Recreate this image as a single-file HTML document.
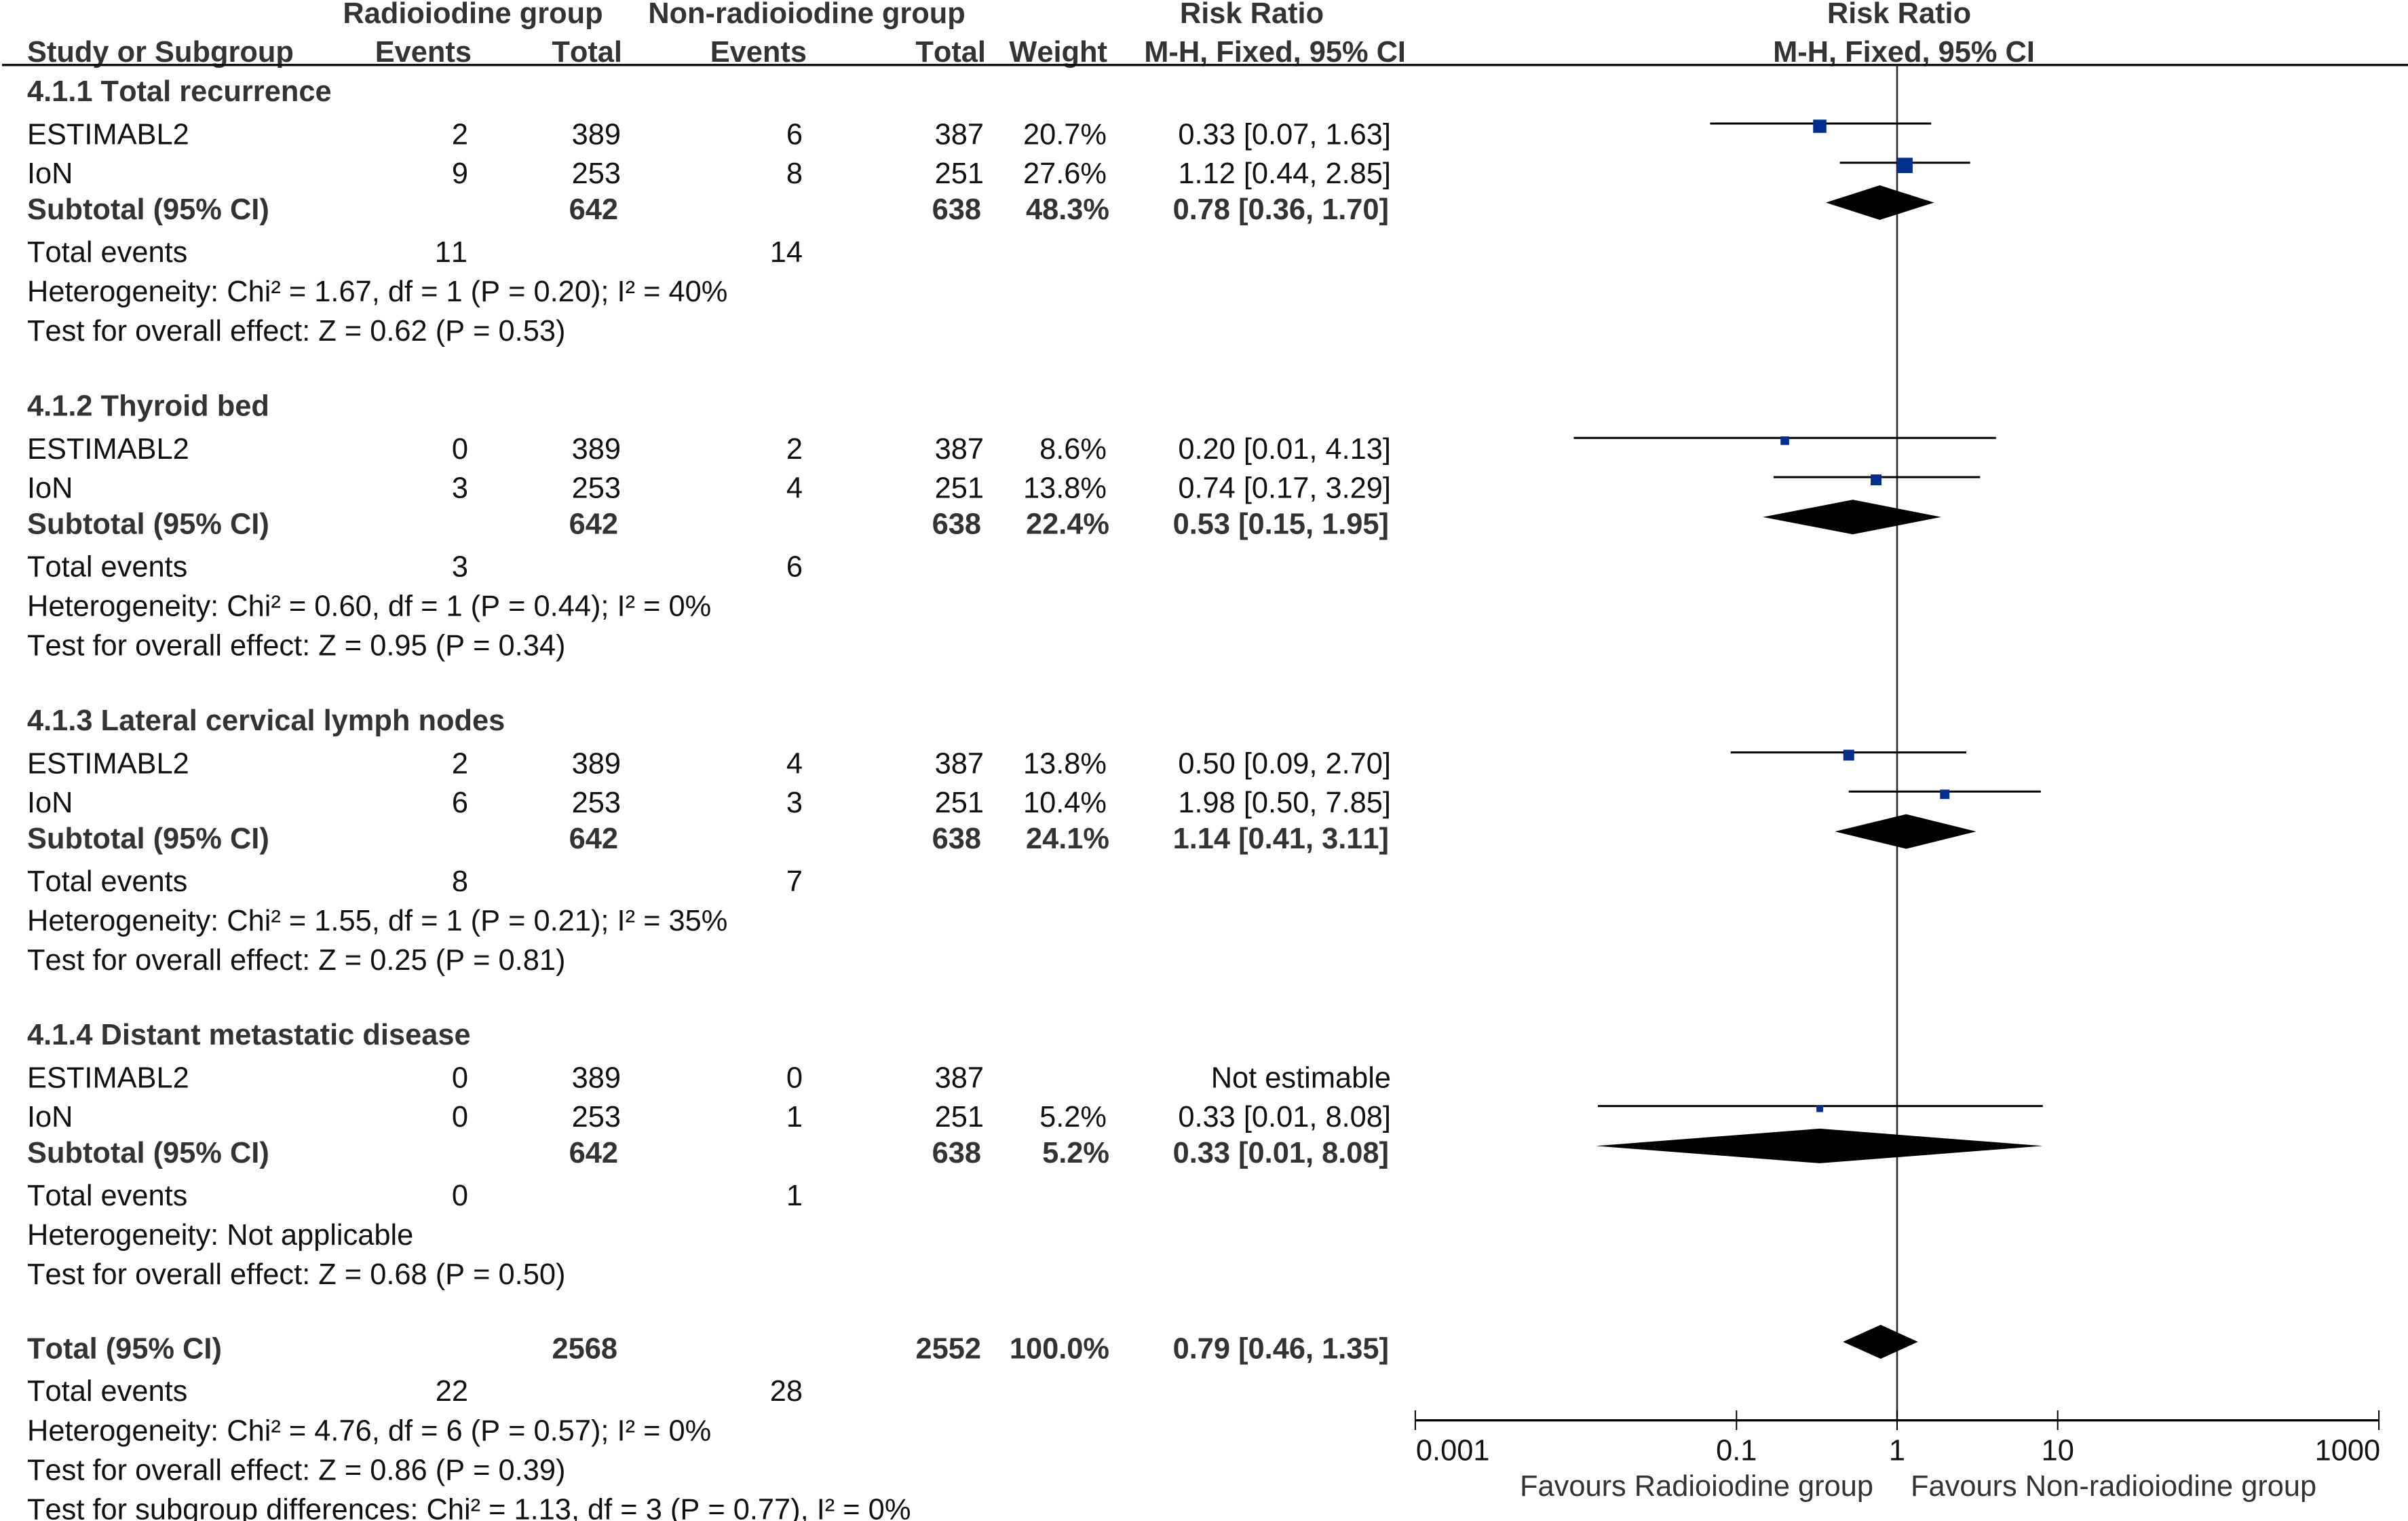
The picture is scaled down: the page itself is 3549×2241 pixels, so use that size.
<!DOCTYPE html>
<html lang="en">
<head>
<meta charset="utf-8">
<title>Forest plot: Radioiodine vs Non-radioiodine</title>
<style>
html,body{margin:0;padding:0;background:#fff;width:3549px;height:2241px;overflow:hidden}
svg{display:block}
text{font-family:"Liberation Sans",Arial,sans-serif;font-size:43.4px;fill:#111;font-kerning:none}
.b{font-weight:700;fill:#333}
.e{text-anchor:end}
.m{text-anchor:middle}
.g{fill:#333;font-kerning:normal}
</style>
</head>
<body>
<svg id="forest" xmlns="http://www.w3.org/2000/svg" width="3549" height="2241" viewBox="0 0 3549 2241">
<rect x="0" y="0" width="3549" height="2241" fill="#fff"/>

<g>
<text class="b m" x="697" y="34">Radioiodine group</text>
<text class="b m" x="1189" y="34">Non-radioiodine group</text>
<text class="b m" x="1845" y="34">Risk Ratio</text>
<text class="b m" x="2799" y="34">Risk Ratio</text>
<text class="b" x="40" y="91">Study or Subgroup</text>
<text class="b e" x="695" y="91">Events</text>
<text class="b e" x="917" y="91">Total</text>
<text class="b e" x="1189" y="91">Events</text>
<text class="b e" x="1453" y="91">Total</text>
<text class="b e" x="1632" y="91">Weight</text>
<text class="b e" x="2072" y="91">M-H, Fixed, 95% CI</text>
<text class="b m" x="2806" y="91">M-H, Fixed, 95% CI</text>
<rect x="3" y="94" width="3546" height="3.5" fill="#111"/>
</g>

<g>
<text class="b" x="40" y="149">4.1.1 Total recurrence</text>
<text x="40" y="212.5">ESTIMABL2</text>
<text class="e" x="690" y="212.5">2</text>
<text class="e" x="915" y="212.5">389</text>
<text class="e" x="1183" y="212.5">6</text>
<text class="e" x="1450" y="212.5">387</text>
<text class="e" x="1631" y="212.5">20.7%</text>
<text class="e" x="2050" y="212.5">0.33 [0.07, 1.63]</text>
<text x="40" y="270">IoN</text>
<text class="e" x="690" y="270">9</text>
<text class="e" x="915" y="270">253</text>
<text class="e" x="1183" y="270">8</text>
<text class="e" x="1450" y="270">251</text>
<text class="e" x="1631" y="270">27.6%</text>
<text class="e" x="2050" y="270">1.12 [0.44, 2.85]</text>
<text class="b" x="40" y="323">Subtotal (95% CI)</text>
<text class="b e" x="911" y="323">642</text>
<text class="b e" x="1446" y="323">638</text>
<text class="b e" x="1635" y="323">48.3%</text>
<text class="b e" x="2047" y="323">0.78 [0.36, 1.70]</text>
<text x="40" y="386">Total events</text>
<text class="e" x="689" y="386">11</text>
<text class="e" x="1183" y="386">14</text>
<text x="40" y="444">Heterogeneity: Chi² = 1.67, df = 1 (P = 0.20); I² = 40%</text>
<text x="40" y="502">Test for overall effect: Z = 0.62 (P = 0.53)</text>
</g>

<g transform="translate(0,463.4)">
<text class="b" x="40" y="149">4.1.2 Thyroid bed</text>
<text x="40" y="212.5">ESTIMABL2</text>
<text class="e" x="690" y="212.5">0</text>
<text class="e" x="915" y="212.5">389</text>
<text class="e" x="1183" y="212.5">2</text>
<text class="e" x="1450" y="212.5">387</text>
<text class="e" x="1631" y="212.5">8.6%</text>
<text class="e" x="2050" y="212.5">0.20 [0.01, 4.13]</text>
<text x="40" y="270">IoN</text>
<text class="e" x="690" y="270">3</text>
<text class="e" x="915" y="270">253</text>
<text class="e" x="1183" y="270">4</text>
<text class="e" x="1450" y="270">251</text>
<text class="e" x="1631" y="270">13.8%</text>
<text class="e" x="2050" y="270">0.74 [0.17, 3.29]</text>
<text class="b" x="40" y="323">Subtotal (95% CI)</text>
<text class="b e" x="911" y="323">642</text>
<text class="b e" x="1446" y="323">638</text>
<text class="b e" x="1635" y="323">22.4%</text>
<text class="b e" x="2047" y="323">0.53 [0.15, 1.95]</text>
<text x="40" y="386">Total events</text>
<text class="e" x="690" y="386">3</text>
<text class="e" x="1183" y="386">6</text>
<text x="40" y="444">Heterogeneity: Chi² = 0.60, df = 1 (P = 0.44); I² = 0%</text>
<text x="40" y="502">Test for overall effect: Z = 0.95 (P = 0.34)</text>
</g>

<g transform="translate(0,926.8)">
<text class="b" x="40" y="149">4.1.3 Lateral cervical lymph nodes</text>
<text x="40" y="212.5">ESTIMABL2</text>
<text class="e" x="690" y="212.5">2</text>
<text class="e" x="915" y="212.5">389</text>
<text class="e" x="1183" y="212.5">4</text>
<text class="e" x="1450" y="212.5">387</text>
<text class="e" x="1631" y="212.5">13.8%</text>
<text class="e" x="2050" y="212.5">0.50 [0.09, 2.70]</text>
<text x="40" y="270">IoN</text>
<text class="e" x="690" y="270">6</text>
<text class="e" x="915" y="270">253</text>
<text class="e" x="1183" y="270">3</text>
<text class="e" x="1450" y="270">251</text>
<text class="e" x="1631" y="270">10.4%</text>
<text class="e" x="2050" y="270">1.98 [0.50, 7.85]</text>
<text class="b" x="40" y="323">Subtotal (95% CI)</text>
<text class="b e" x="911" y="323">642</text>
<text class="b e" x="1446" y="323">638</text>
<text class="b e" x="1635" y="323">24.1%</text>
<text class="b e" x="2047" y="323">1.14 [0.41, 3.11]</text>
<text x="40" y="386">Total events</text>
<text class="e" x="690" y="386">8</text>
<text class="e" x="1183" y="386">7</text>
<text x="40" y="444">Heterogeneity: Chi² = 1.55, df = 1 (P = 0.21); I² = 35%</text>
<text x="40" y="502">Test for overall effect: Z = 0.25 (P = 0.81)</text>
</g>

<g transform="translate(0,1390.2)">
<text class="b" x="40" y="149">4.1.4 Distant metastatic disease</text>
<text x="40" y="212.5">ESTIMABL2</text>
<text class="e" x="690" y="212.5">0</text>
<text class="e" x="915" y="212.5">389</text>
<text class="e" x="1183" y="212.5">0</text>
<text class="e" x="1450" y="212.5">387</text>
<text class="e" x="2050" y="212.5">Not estimable</text>
<text x="40" y="270">IoN</text>
<text class="e" x="690" y="270">0</text>
<text class="e" x="915" y="270">253</text>
<text class="e" x="1183" y="270">1</text>
<text class="e" x="1450" y="270">251</text>
<text class="e" x="1631" y="270">5.2%</text>
<text class="e" x="2050" y="270">0.33 [0.01, 8.08]</text>
<text class="b" x="40" y="323">Subtotal (95% CI)</text>
<text class="b e" x="911" y="323">642</text>
<text class="b e" x="1446" y="323">638</text>
<text class="b e" x="1635" y="323">5.2%</text>
<text class="b e" x="2047" y="323">0.33 [0.01, 8.08]</text>
<text x="40" y="386">Total events</text>
<text class="e" x="690" y="386">0</text>
<text class="e" x="1183" y="386">1</text>
<text x="40" y="444">Heterogeneity: Not applicable</text>
<text x="40" y="502">Test for overall effect: Z = 0.68 (P = 0.50)</text>
</g>

<g>
<text class="b" x="40" y="2001.5">Total (95% CI)</text>
<text class="b e" x="910" y="2001.5">2568</text>
<text class="b e" x="1446" y="2001.5">2552</text>
<text class="b e" x="1635" y="2001.5">100.0%</text>
<text class="b e" x="2047" y="2001.5">0.79 [0.46, 1.35]</text>
<text x="40" y="2064">Total events</text>
<text class="e" x="690" y="2064">22</text>
<text class="e" x="1183" y="2064">28</text>
<text x="40" y="2122.5">Heterogeneity: Chi² = 4.76, df = 6 (P = 0.57); I² = 0%</text>
<text x="40" y="2180.5">Test for overall effect: Z = 0.86 (P = 0.39)</text>
<text x="40" y="2238.5">Test for subgroup differences: Chi² = 1.13, df = 3 (P = 0.77), I² = 0%</text>
</g>

<text class="g e" x="2761" y="2204">Favours Radioiodine group</text>
<text class="g" x="2816" y="2204">Favours Non-radioiodine group</text>

<g id="marks"></g>
<g id="axis"></g>
</svg>

<script>
// Study-level estimates, one entry per plotted study
const studySection = [0, 0, 1, 1, 2, 2, 3];
const studyRow = [0, 1, 0, 1, 0, 1, 1];
const studyRR = [0.33, 1.12, 0.20, 0.74, 0.50, 1.98, 0.33];
const studyLow = [0.0685, 0.44, 0.0097, 0.17, 0.092, 0.50, 0.0137];
const studyHigh = [1.63, 2.85, 4.13, 3.29, 2.70, 7.85, 8.08];
const studyWeight = [20.7, 27.6, 8.6, 13.8, 13.8, 10.4, 5.2];

// Subtotal diamonds, one per subgroup
const subtotalRR = [0.78, 0.53, 1.14, 0.33];
const subtotalLow = [0.36, 0.146, 0.41, 0.0133];
const subtotalHigh = [1.70, 1.88, 3.11, 8.08];

// Overall diamond
const totalRR = [0.79];
const totalLow = [0.46];
const totalHigh = [1.35];

// Axis ticks
const tickValues = [0.001, 0.1, 1, 10, 1000];
const tickLabels = ['0.001', '0.1', '1', '10', '1000'];

const NS = 'http://www.w3.org/2000/svg';
const marks = document.getElementById('marks');
const axis = document.getElementById('axis');

const X_ONE = 2796;
const PX_PER_DECADE = 236.7;
const xScale = function (v) { return X_ONE + Math.log10(v) * PX_PER_DECADE; };

const SECTION_PITCH = 463.3;
const studyY = function (section, row) { return 182 + SECTION_PITCH * section + 57.7 * row; };
const subtotalY = function (section) { return 298.5 + SECTION_PITCH * section; };
const squareSize = function (w) { return 4.3 * Math.sqrt(w); };

function make(tag, parent, attrs) {
  const el = document.createElementNS(NS, tag);
  Object.keys(attrs).forEach(function (k) { el.setAttribute(k, attrs[k]); });
  parent.appendChild(el);
  return el;
}

function diamond(low, mid, high, cy, halfH) {
  return make('polygon', marks, {
    points: xScale(low) + ',' + cy + ' ' + xScale(mid) + ',' + (cy - halfH) + ' ' +
            xScale(high) + ',' + cy + ' ' + xScale(mid) + ',' + (cy + halfH),
    fill: '#000'
  });
}

// Reference line at RR = 1
const refLine = make('line', marks, { x1: xScale(1), x2: xScale(1), y1: 96, y2: 2093, stroke: '#2b2b2b', 'stroke-width': 2.6 });



// Study CI whiskers and weight squares
studyRR.forEach(function (rr, i) {
  const y = studyY(studySection[i], studyRow[i]);
  const ci = make('line', marks, { x1: xScale(studyLow[i]), x2: xScale(studyHigh[i]), y1: y, y2: y, stroke: '#000', 'stroke-width': 3 });
  
  
  const s = squareSize(studyWeight[i]);
  const sq = make('rect', marks, { x: xScale(rr) - s / 2, y: y + 4 - s / 2, width: s, height: s, fill: '#002f8f' });
  
  
});

// Subtotal diamonds
subtotalRR.forEach(function (rr, i) {
  const d = diamond(subtotalLow[i], rr, subtotalHigh[i], subtotalY(i), 25.5);
  
  
});

// Overall diamond
const totalDiamond = diamond(totalLow[0], totalRR[0], totalHigh[0], 1977, 25);



// Axis
const AXIS_Y = 2092.7;
const axisLine = make('line', axis, {
  x1: xScale(tickValues[0]), x2: xScale(tickValues[tickValues.length - 1]),
  y1: AXIS_Y, y2: AXIS_Y, stroke: '#000', 'stroke-width': 3.4
});



tickValues.forEach(function (v, i) {
  const x = xScale(v);
  const tick = make('line', axis, { x1: x, x2: x, y1: 2078, y2: 2107, stroke: '#000', 'stroke-width': 2 });
  
  
  const first = i === 0;
  const last = i === tickValues.length - 1;
  const label = make('text', axis, {
    x: first ? x + 1 : last ? x + 2 : x,
    y: 2151.5,
    'text-anchor': first ? 'start' : last ? 'end' : 'middle'
  });
  label.textContent = tickLabels[i];
  
  
});
</script>
</body>
</html>
